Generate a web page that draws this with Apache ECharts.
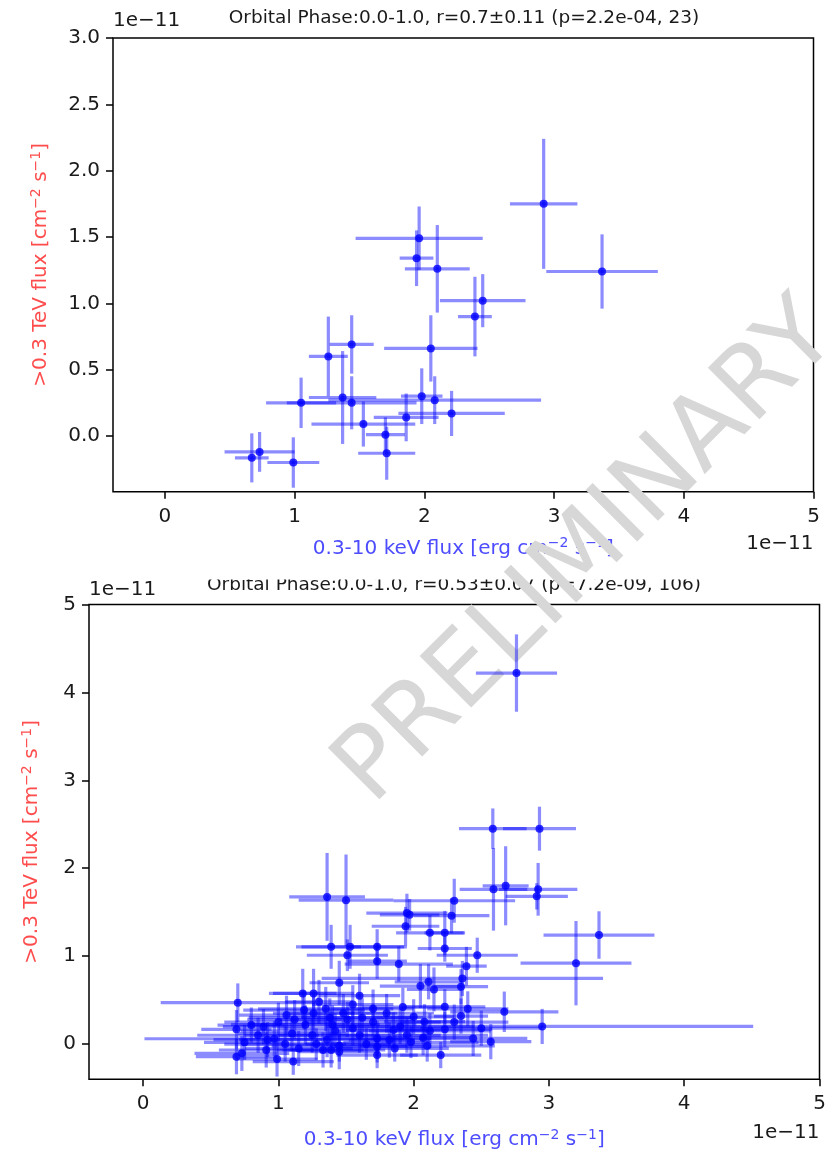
<!DOCTYPE html>
<html><head><meta charset="utf-8">
<script src="https://cdn.jsdelivr.net/npm/echarts@6/dist/echarts.min.js"></script>
<style>html,body{margin:0;padding:0;background:#fff}#c{width:825px;height:1152px}</style>
</head><body><div id="c"></div>
<script>
// ---- texts ----
const topTitle = 'Orbital Phase:0.0-1.0, r=0.7\u00b10.11 (p=2.2e-04, 23)';
const botTitle = 'Orbital Phase:0.0-1.0, r=0.53\u00b10.07 (p=7.2e-09, 106)';
const offsetLabel = '1e\u221211';
const watermark = 'PRELIMINARY';
// ---- ticks ----
const xTicks = [0, 1, 2, 3, 4, 5];
const topYTicks = [0, 0.5, 1, 1.5, 2, 2.5, 3];
const botYTicks = [0, 1, 2, 3, 4, 5];
// ---- top panel data (units of 1e-11) ----
const topX    = [2.92, 3.37, 1.96, 1.94, 2.10, 2.45, 2.39, 2.05, 1.44, 1.26, 1.05, 1.37, 1.44, 1.53, 1.98, 2.08, 2.21, 1.86, 1.70, 1.71, 0.73, 0.67, 0.99];
const topY    = [1.75, 1.24, 1.49, 1.34, 1.26, 1.02, 0.90, 0.66, 0.69, 0.60, 0.25, 0.29, 0.25, 0.09, 0.30, 0.27, 0.17, 0.14, 0.01, -0.13, -0.12, -0.165, -0.20];
const topXErr = [0.26, 0.43, 0.49, 0.13, 0.25, 0.33, 0.13, 0.36, 0.17, 0.15, 0.27, 0.26, 0.50, 0.40, 0.16, 0.82, 0.41, 0.25, 0.15, 0.22, 0.27, 0.13, 0.20];
const topYErr = [0.49, 0.28, 0.24, 0.21, 0.33, 0.20, 0.30, 0.25, 0.22, 0.30, 0.19, 0.35, 0.20, 0.17, 0.21, 0.18, 0.17, 0.18, 0.13, 0.20, 0.15, 0.185, 0.19];
// ---- bottom panel data (units of 1e-11) ----
const botX = [2.76, 2.585, 2.93, 2.59, 2.68, 2.92, 2.91, 3.37, 3.20, 2.30,
  2.28, 1.95, 1.97, 1.94, 2.12, 2.23, 2.23, 2.47, 2.39, 2.36,
  2.35, 1.89, 1.36, 1.50, 1.39, 1.53, 1.51, 1.73, 1.73, 2.05,
  2.11, 2.15, 1.45, 1.18, 1.26, 0.70, 2.67, 2.95, 2.23, 2.35,
  2.23, 2.44, 2.57, 2.20, 2.07, 2.00, 2.08, 1.73, 1.73, 1.73,
  1.82, 1.85, 1.33, 1.39, 1.45, 0.69, 0.69, 0.73, 0.80, 0.89,
  0.91, 0.99, 1.11, 1.06, 0.97, 1.15, 1.19, 1.26, 1.35, 1.38,
  1.40, 1.42, 1.36, 1.48, 1.51, 1.55, 1.60, 1.25, 1.20, 1.10,
  1.05, 0.92, 0.85, 1.62, 1.70, 1.90, 1.95, 1.98, 2.12, 2.30,
  1.80, 1.55, 1.30, 1.12, 0.75, 1.00, 1.45, 1.65, 2.40, 1.70,
  1.92, 1.60, 2.50, 1.28, 1.86, 2.10];
const botY = [4.22, 2.45, 2.45, 1.76, 1.80, 1.76, 1.68, 1.24, 0.92, 1.63,
  1.46, 1.49, 1.47, 1.34, 1.265, 1.265, 1.087, 1.01, 0.886, 0.746,
  0.652, 0.91, 1.674, 1.636, 1.106, 1.106, 1.01, 1.106, 0.943, 0.659,
  0.708, 0.621, 0.697, 0.576, 0.576, 0.47, 0.367, 0.20, 0.424, 0.318,
  0.167, 0.064, 0.027, -0.125, 0.072, 0.31, 0.254, -0.03, -0.125, 0.064,
  0.045, 0.159, -0.068, -0.068, -0.087, 0.167, -0.144, -0.106, 0.216, 0.197,
  -0.068, -0.17, -0.20, 0.33, 0.06, -0.05, 0.386, 0.35, 0.40, 0.30,
  0.22, 0.15, 0.05, 0.35, 0.28, 0.18, 0.10, 0.10, 0.22, 0.12,
  0.00, 0.05, 0.10, 0.30, 0.25, 0.20, 0.10, 0.02, 0.15, 0.25,
  0.35, 0.45, 0.48, 0.28, 0.02, 0.25, -0.02, 0.00, 0.40, 0.40,
  0.42, 0.55, 0.18, 0.00, -0.05, -0.02];
const botXErr = [0.30, 0.25, 0.27, 0.25, 0.17, 0.29, 0.23, 0.41, 0.41, 0.45,
  0.28, 0.30, 0.22, 0.25, 0.25, 0.15, 0.20, 0.30, 0.15, 1.04,
  0.20, 0.40, 0.28, 0.35, 0.22, 0.40, 0.30, 0.22, 0.22, 0.30,
  0.25, 0.20, 0.22, 0.25, 0.30, 0.57, 0.40, 1.56, 0.30, 0.20,
  0.35, 0.40, 0.30, 0.30, 0.35, 0.30, 0.30, 0.35, 0.30, 0.40,
  0.30, 0.35, 0.30, 0.40, 0.30, 0.26, 0.30, 0.35, 0.25, 0.30,
  0.35, 0.30, 0.30, 0.35, 0.96, 0.40, 0.45, 0.30, 0.50, 0.60,
  0.62, 0.70, 0.65, 0.40, 0.50, 0.55, 0.60, 0.50, 0.55, 0.40,
  0.45, 0.40, 0.45, 0.45, 0.50, 0.55, 0.60, 0.50, 0.45, 0.40,
  0.35, 0.30, 0.25, 0.35, 0.30, 0.40, 0.50, 0.45, 0.30, 0.30,
  0.30, 0.30, 0.45, 0.55, 0.40, 0.50];
const botYErr = [0.44, 0.23, 0.25, 0.47, 0.45, 0.30, 0.15, 0.27, 0.48, 0.25,
  0.20, 0.22, 0.18, 0.22, 0.20, 0.25, 0.15, 0.20, 0.22, 0.20,
  0.20, 0.20, 0.50, 0.52, 0.25, 0.25, 0.18, 0.20, 0.20, 0.25,
  0.20, 0.25, 0.25, 0.28, 0.28, 0.22, 0.23, 0.20, 0.20, 0.20,
  0.20, 0.20, 0.20, 0.15, 0.20, 0.20, 0.20, 0.18, 0.15, 0.20,
  0.20, 0.20, 0.20, 0.20, 0.20, 0.22, 0.20, 0.20, 0.20, 0.20,
  0.20, 0.20, 0.15, 0.22, 0.20, 0.20, 0.22, 0.22, 0.25, 0.22,
  0.22, 0.20, 0.20, 0.22, 0.20, 0.20, 0.20, 0.20, 0.22, 0.20,
  0.20, 0.20, 0.20, 0.22, 0.20, 0.20, 0.20, 0.18, 0.20, 0.20,
  0.22, 0.22, 0.25, 0.22, 0.20, 0.22, 0.18, 0.18, 0.20, 0.22,
  0.22, 0.25, 0.20, 0.18, 0.15, 0.18];

// ---- build ----
function rows(xs, ys, xe, ye) { return xs.map((x, i) => [x, ys[i], xe[i], ye[i]]); }
const topRows = rows(topX, topY, topXErr, topYErr);
const botRows = rows(botX, botY, botXErr, botYErr);

const FONT = 'DejaVu Sans';
const ERR = 'rgba(0,0,255,0.45)';
const RED = '#ff4d4d';
const BLUE = '#4d4dff';
const INK = '#1a1a1a';

function errRender(params, api) {
  const x = api.value(0), y = api.value(1), xe = api.value(2), ye = api.value(3);
  const a = api.coord([x - xe, y]), b = api.coord([x + xe, y]);
  const c = api.coord([x, y - ye]), d = api.coord([x, y + ye]);
  return {
    type: 'group',
    children: [
      { type: 'line', shape: { x1: a[0], y1: a[1], x2: b[0], y2: b[1] }, style: { stroke: ERR, lineWidth: 3.2 } },
      { type: 'line', shape: { x1: c[0], y1: c[1], x2: d[0], y2: d[1] }, style: { stroke: ERR, lineWidth: 3.2 } }
    ]
  };
}

function richName(color) {
  return {
    color: color, fontFamily: FONT,
    rich: {
      n: { fontSize: 20, lineHeight: 24, color: color, fontFamily: FONT },
      s: { fontSize: 14, lineHeight: 16, verticalAlign: 'top', color: color, fontFamily: FONT }
    }
  };
}
const xName = '{n|0.3-10 keV flux [erg cm}{s|\u22122}{n| s}{s|\u22121}{n|]}';
const yName = '{n|>0.3 TeV flux [cm}{s|\u22122}{n| s}{s|\u22121}{n|]}';

function xAxisDef(gi, gap) {
  return {
    type: 'value', gridIndex: gi, min: -0.4, max: 5, position: 'bottom',
    splitLine: { show: false },
    axisLine: { show: false, onZero: false },
    axisTick: { show: true, customValues: xTicks, length: 7, lineStyle: { color: '#000', width: 1.5 } },
    axisLabel: { customValues: xTicks, formatter: v => String(v), fontSize: 20, color: INK, fontFamily: FONT, margin: 15 },
    name: xName, nameLocation: 'middle', nameGap: gap, nameMoveOverlap: false,
    nameTextStyle: richName(BLUE)
  };
}
function yAxisDef(gi, min, max, ticks, fmt, gap) {
  return {
    type: 'value', gridIndex: gi, min: min, max: max, position: 'left',
    splitLine: { show: false },
    axisLine: { show: false, onZero: false },
    axisTick: { show: true, customValues: ticks, length: 7, lineStyle: { color: '#000', width: 1.5 } },
    axisLabel: { customValues: ticks, formatter: fmt, fontSize: 20, color: INK, fontFamily: FONT, margin: 13 },
    name: yName, nameLocation: 'middle', nameGap: gap, nameRotate: 90, nameMoveOverlap: false,
    nameTextStyle: richName(RED)
  };
}

const chart = echarts.init(document.getElementById('c'), null, { renderer: 'canvas' });
chart.setOption({
  animation: false,
  backgroundColor: '#fff',
  textStyle: { fontFamily: FONT },
  title: [
    { text: topTitle, left: 464, top: 7, textAlign: 'center', padding: 0, z: 0,
      textStyle: { fontSize: 18.5, fontWeight: 'normal', color: INK, fontFamily: FONT, lineHeight: 22 } },
    { text: botTitle, left: 454, top: 574, textAlign: 'center', padding: 0, z: 0,
      textStyle: { fontSize: 18.5, fontWeight: 'normal', color: INK, fontFamily: FONT, lineHeight: 22 } }
  ],
  grid: [
    { left: 113, top: 38, width: 700.5, height: 453.7, show: true, borderColor: '#000', borderWidth: 1.5, backgroundColor: 'transparent', containLabel: false, outerBoundsMode: 'none' },
    { left: 89, top: 604.5, width: 730.5, height: 474.7, show: true, borderColor: '#000', borderWidth: 1.5, backgroundColor: 'transparent', containLabel: false, outerBoundsMode: 'none' }
  ],
  xAxis: [xAxisDef(0, 45), xAxisDef(1, 49)],
  yAxis: [
    yAxisDef(0, -0.42, 3.0, topYTicks, v => v.toFixed(1), 60),
    yAxisDef(1, -0.4, 5.0, botYTicks, v => String(v), 45)
  ],
  graphic: [
    { type: 'rect', shape: { x: 180, y: 566, width: 550, height: 13.5 }, z: 1, style: { fill: '#fff' } },
    { type: 'text', x: 588, y: 554, rotation: Math.PI / 4, z: 1.5,
      style: { text: watermark, fontSize: 100, fontFamily: FONT, fill: '#d7d7d7', align: 'center', verticalAlign: 'middle' } },
    { type: 'text', x: 113, y: 21, z: 3, style: { text: offsetLabel, fontSize: 20, fontFamily: FONT, fill: INK, align: 'left', verticalAlign: 'middle' } },
    { type: 'text', x: 813.5, y: 544, z: 3, style: { text: offsetLabel, fontSize: 20, fontFamily: FONT, fill: INK, align: 'right', verticalAlign: 'middle' } },
    { type: 'text', x: 89, y: 590, z: 3, style: { text: offsetLabel, fontSize: 20, fontFamily: FONT, fill: INK, align: 'left', verticalAlign: 'middle' } },
    { type: 'text', x: 819.5, y: 1133, z: 3, style: { text: offsetLabel, fontSize: 20, fontFamily: FONT, fill: INK, align: 'right', verticalAlign: 'middle' } }
  ],
  series: [
    { type: 'custom', xAxisIndex: 0, yAxisIndex: 0, data: topRows, renderItem: errRender, encode: { x: 0, y: 1 }, z: 2, silent: true },
    { type: 'scatter', xAxisIndex: 0, yAxisIndex: 0, data: topRows.map(r => [r[0], r[1]]), symbol: 'circle', symbolSize: 8, itemStyle: { color: '#0000ff' }, z: 3, silent: true },
    { type: 'custom', xAxisIndex: 1, yAxisIndex: 1, data: botRows, renderItem: errRender, encode: { x: 0, y: 1 }, z: 2, silent: true },
    { type: 'scatter', xAxisIndex: 1, yAxisIndex: 1, data: botRows.map(r => [r[0], r[1]]), symbol: 'circle', symbolSize: 8, itemStyle: { color: '#0000ff' }, z: 3, silent: true }
  ]
});
</script>
</body></html>
